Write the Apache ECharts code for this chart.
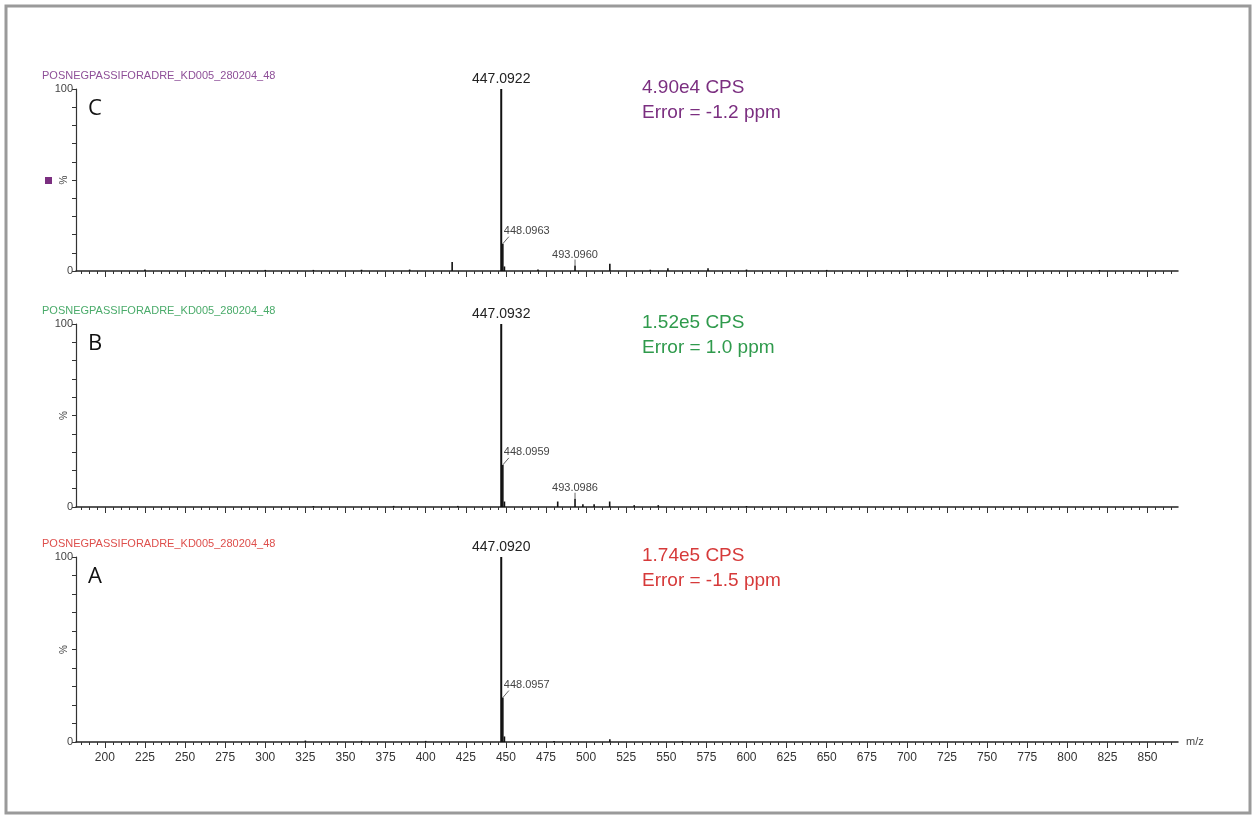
<!DOCTYPE html>
<html>
<head>
<meta charset="utf-8">
<script src="https://cdn.jsdelivr.net/npm/echarts@6/dist/echarts.min.js"></script>
<style>
  html, body { margin: 0; padding: 0; background: #fff; }
  #chart { width: 1257px; height: 820px; }
</style>
</head>
<body>
<div id="chart"></div>
<script>
// m/z axis
let mzMin = 182
let mzMax = 869
let mzLabels = []
for (let v = 200; v <= 850; v += 25) mzLabels.push(v)
let mzMinor = []
for (let v = 185; v <= 865; v += 5) mzMinor.push(v)

// peaks [m/z, relative intensity %]
let peaksC = [[447.0922,100],[448.0963,15],[449.09,2.5],[416.5,5],[493.0960,3],[514.8,4],[551,1.5],[576,1.5],
  [225,0.8],[262,0.5],[300,0.6],[330,0.6],[360,0.7],[390,0.8],[470,0.8],[540,0.7],[600,0.8],[650,0.6],[700,0.5],[760,0.5],[820,0.5]]
let peaksB = [[447.0932,100],[448.0959,23],[449.09,3],[482.3,3],[493.0986,4.5],[498,1.5],[505,1.5],[514.7,3],[530,1],[545,1],
  [330,0.5],[380,0.6],[420,0.6],[600,0.5]]
let peaksA = [[447.0920,100],[448.0957,24],[449.09,3],[514.8,1.5],[325,0.8],[360,0.6],[400,0.6],[480,0.6],[560,0.5]]

// labelled peaks: top = centred above, side = right with leader
let topLabelsC = [[447.0922,100],[493.0960,3]]
let sideLabelsC = [[448.0963,15]]
let topLabelsB = [[447.0932,100],[493.0986,4.5]]
let sideLabelsB = [[448.0959,23]]
let topLabelsA = [[447.0920,100]]
let sideLabelsA = [[448.0957,24]]

let runName = 'POSNEGPASSIFORADRE_KD005_280204_48'
let panelLetters = ['C','B','A']
let cpsText = ['4.90e4 CPS','1.52e5 CPS','1.74e5 CPS']
let errText = ['Error = -1.2 ppm','Error = 1.0 ppm','Error = -1.5 ppm']

let panelColors = ['#7b2f80','#2f9a4c','#d63a3a']
let titleColors = ['#8e4f98','#4aab6a','#de4f4c']
let gridTops = [89, 324, 557]
let gridHeights = [182, 183, 185]

let chart = echarts.init(document.getElementById('chart'))

let font = '"Liberation Sans", Arial, sans-serif'

function stickSeries(idx, data){
  return {
    type: 'custom',
    xAxisIndex: idx * 2,
    yAxisIndex: idx,
    data: data,
    silent: true,
    renderItem: function(params, api){
      let p0 = api.coord([api.value(0), 0])
      let p1 = api.coord([api.value(0), api.value(1)])
      return {
        type: 'line',
        shape: { x1: p0[0], y1: p0[1], x2: p1[0], y2: p1[1] },
        style: { stroke: '#111', lineWidth: api.value(1) > 50 ? 2 : 1.6 }
      }
    }
  }
}

function topLabelSeries(idx, data){
  return {
    type: 'custom',
    xAxisIndex: idx * 2,
    yAxisIndex: idx,
    data: data,
    silent: true,
    renderItem: function(params, api){
      let mz = api.value(0), h = api.value(1)
      let p = api.coord([mz, h])
      let big = h > 50
      let children = [{
        type: 'text',
        style: {
          text: mz.toFixed(4), x: p[0], y: p[1] - (big ? 3 : 5),
          align: 'center', verticalAlign: 'bottom',
          font: (big ? '14px ' : '11px ') + font, fill: big ? '#222' : '#444'
        }
      }]
      if (!big) children.push({
        type: 'line',
        shape: { x1: p[0], y1: p[1], x2: p[0], y2: p[1] - 6 },
        style: { stroke: '#666', lineWidth: 1 }
      })
      return { type: 'group', children: children }
    }
  }
}

function sideLabelSeries(idx, data){
  return {
    type: 'custom',
    xAxisIndex: idx * 2,
    yAxisIndex: idx,
    data: data,
    silent: true,
    renderItem: function(params, api){
      let mz = api.value(0), h = api.value(1)
      let p = api.coord([mz, h])
      return {
        type: 'group',
        children: [{
          type: 'line',
          shape: { x1: p[0], y1: p[1], x2: p[0] + 6, y2: p[1] - 7 },
          style: { stroke: '#666', lineWidth: 1 }
        }, {
          type: 'text',
          style: {
            text: mz.toFixed(4), x: p[0] + 1, y: p[1] - 7,
            align: 'left', verticalAlign: 'bottom',
            font: '11px ' + font, fill: '#444'
          }
        }]
      }
    }
  }
}

let grids = [], xAxes = [], yAxes = [], series = [], titles = [], graphics = []
let allPeaks = [peaksC, peaksB, peaksA]
let allTop = [topLabelsC, topLabelsB, topLabelsA]
let allSide = [sideLabelsC, sideLabelsB, sideLabelsA]

for (let i = 0; i < 3; i++){
  grids.push({ left: 76, right: 79, top: gridTops[i], height: gridHeights[i] })
  let last = i === 2
  // minor ticks + labels
  xAxes.push({
    type: 'value', gridIndex: i, min: mzMin, max: mzMax, position: 'bottom',
    splitLine: { show: false },
    axisLine: { lineStyle: { color: '#222', width: 1.5 } },
    axisTick: { customValues: mzMinor, length: 3, lineStyle: { color: '#333' } },
    axisLabel: {
      show: last, customValues: mzLabels, margin: 10,
      fontSize: 12, color: '#333', fontFamily: font
    },
    name: last ? 'm/z' : '', nameLocation: 'end', nameGap: 8,
    nameTextStyle: { fontSize: 11, color: '#444', fontFamily: font }
  })
  // major ticks
  xAxes.push({
    type: 'value', gridIndex: i, min: mzMin, max: mzMax, position: 'bottom',
    splitLine: { show: false },
    axisLine: { show: false },
    axisTick: { customValues: mzLabels, length: 6, lineStyle: { color: '#333' } },
    axisLabel: { show: false }
  })
  yAxes.push({
    type: 'value', gridIndex: i, min: 0, max: 100, interval: 10,
    splitLine: { show: false },
    axisLine: { show: true, lineStyle: { color: '#333', width: 1.2 } },
    axisTick: { show: true, length: 4, lineStyle: { color: '#333' } },
    axisLabel: {
      fontSize: 11, color: '#444', fontFamily: font, margin: 3,
      formatter: v => (v === 0 || v === 100) ? String(v) : ''
    }
  })
  series.push(stickSeries(i, allPeaks[i]))
  series.push(topLabelSeries(i, allTop[i]))
  series.push(sideLabelSeries(i, allSide[i]))

  titles.push({
    text: runName, left: 37, top: gridTops[i] - 24,
    textStyle: { fontSize: 11, fontWeight: 'normal', color: titleColors[i], fontFamily: font }
  })
  // rotated % next to the mid tick
  graphics.push({
    type: 'text', x: 64, y: gridTops[i] + gridHeights[i] / 2, rotation: Math.PI / 2,
    style: { text: '%', font: '10px ' + font, fill: '#444', align: 'center', verticalAlign: 'middle' }
  })
  graphics.push({
    type: 'text', left: 88, top: gridTops[i] + 9,
    style: { text: panelLetters[i], font: '22px "Open Sans", sans-serif', fill: '#111' }
  })
  graphics.push({
    type: 'text', left: 642, top: gridTops[i] - 14,
    style: { text: cpsText[i] + '\n' + errText[i], font: '19px ' + font, lineHeight: 25, fill: panelColors[i] }
  })
}

// legend square beside the % label in panel C
graphics.push({ type: 'rect', shape: { x: 45, y: 177, width: 7, height: 7 }, style: { fill: '#7b2f80' } })
// outer frame
graphics.push({ type: 'rect', z: 100, shape: { x: 6, y: 6, width: 1244, height: 807 },
  style: { fill: 'none', stroke: '#9a9a9a', lineWidth: 3 } })

chart.setOption({
  animation: false,
  backgroundColor: '#fff',
  title: titles,
  grid: grids,
  xAxis: xAxes,
  yAxis: yAxes,
  series: series,
  graphic: graphics
})
</script>
</body>
</html>
